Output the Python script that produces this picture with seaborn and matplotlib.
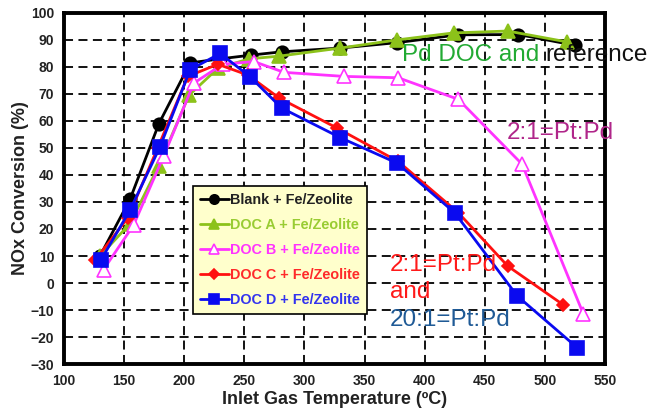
import matplotlib
matplotlib.use("Agg")
import matplotlib.pyplot as plt
import seaborn as sns
import pandas as pd

sns.set_theme(style="white")
plt.rcParams["font.family"] = ["Liberation Sans", "DejaVu Sans"]

# Inlet temperature (degC) and NOx conversion (%) per configuration
blank_t = [130, 155, 179, 205, 230, 256, 281, 330, 377, 428, 478, 525]
blank_y = [10, 31, 59, 81.5, 83, 84.4, 85.6, 87, 89, 91.9, 92, 88]

doca_t = [130, 155, 179, 204, 228, 254, 279, 330, 377, 424, 469, 518]
doca_y = [10, 22, 43.5, 69.5, 79.5, 83, 84, 87, 90, 92.6, 93.3, 89.3]

docb_t = [133, 158, 183, 208, 232, 258, 283, 333, 378, 428, 481, 532]
docb_y = [5, 21.5, 47, 74, 81, 82, 78, 76.5, 76, 68, 44, -11.5]

docc_t = [126, 153, 178, 203, 228, 253, 279, 327, 378, 428, 469, 515]
docc_y = [8.5, 24, 50, 76.5, 81, 77, 68.5, 57.4, 45, 26, 6.3, -8]

docd_t = [131, 155, 180, 205, 230, 255, 281, 330, 377, 425, 477, 527]
docd_y = [8.7, 27, 50.5, 79, 85, 76.3, 64.8, 53.8, 44.4, 26, -4.8, -24]

labels = ["Blank + Fe/Zeolite", "DOC A + Fe/Zeolite", "DOC B + Fe/Zeolite",
          "DOC C + Fe/Zeolite", "DOC D + Fe/Zeolite"]

series = [
    (blank_t, blank_y, "#000000", "o", 9, "#000000"),
    (doca_t, doca_y, "#8CC21A", "^", 9.5, "#8CC21A"),
    (docb_t, docb_y, "#FF33FF", "^", 10.5, "white"),
    (docc_t, docc_y, "#FF1010", "D", 6.5, "#FF1010"),
    (docd_t, docd_y, "#0A0AF0", "s", 10.5, "#0A0AF0"),
]
legend_text_colors = ["#222222", "#99CC33", "#FF33FF", "#FF2A2A", "#3333EE"]

fig = plt.figure(figsize=(6.52, 4.17), dpi=100)
ax = fig.add_axes([0.098, 0.127, 0.83, 0.842])

for (t, y, c, m, ms, fc), lab in zip(series, labels):
    df = pd.DataFrame({"T": t, "NOx": y})
    sns.lineplot(data=df, x="T", y="NOx", ax=ax, color=c, marker=m,
                 markersize=ms, markerfacecolor=fc, markeredgecolor=c,
                 markeredgewidth=1.2, linewidth=2, sort=False, label=lab)

ax.set_xlim(100, 550)
ax.set_ylim(-30, 100)
ax.set_xticks(range(100, 551, 50))
ax.set_yticks(range(-30, 101, 10))
ax.grid(True, color="black", linestyle=(0, (5, 3)), linewidth=1.3)
for s in ax.spines.values():
    s.set_color("black")
    s.set_linewidth(2.8)
ax.tick_params(axis="both", which="major", direction="out", length=4,
               width=1.2, color="black", labelsize=10, pad=3)
for lbl in ax.get_xticklabels() + ax.get_yticklabels():
    lbl.set_fontweight("bold")
    lbl.set_color("#222222")

ax.set_xlabel("Inlet Gas Temperature (ºC)", fontsize=13, fontweight="bold",
              color="#222222", labelpad=2)
ax.set_ylabel("NOx Conversion (%)", fontsize=13, fontweight="bold",
              color="#222222", labelpad=1)

leg = ax.legend(loc="upper left", bbox_to_anchor=(0.238, 0.507),
                borderaxespad=0, frameon=True, fancybox=False,
                facecolor="#FFFFCC", edgecolor="black", framealpha=1,
                handlelength=2.0, handletextpad=0.05, labelspacing=0.75,
                borderpad=0.5, markerscale=0.75,
                prop={"weight": "bold", "size": 10.4})
leg.get_frame().set_linewidth(1.2)
for txt, c in zip(leg.get_texts(), legend_text_colors):
    txt.set_color(c)

# Callouts
fs = 17.5
t1 = ax.text(381, 84.4, "Pd DOC and ", color="#22AA33", fontsize=fs,
             ha="left", va="center", clip_on=False)
fig.canvas.draw()
bb = t1.get_window_extent().transformed(ax.transData.inverted())
ax.text(bb.x1, 84.4, "reference", color="#111111", fontsize=fs,
        ha="left", va="center", clip_on=False)
ax.text(468, 55.6, "2:1=Pt:Pd", color="#B0268A", fontsize=fs,
        ha="left", va="center", clip_on=False)
ax.text(371, 6.7, "2:1=Pt:Pd", color="#FF1A1A", fontsize=fs,
        ha="left", va="center")
ax.text(371, -3.3, "and", color="#FF1A1A", fontsize=fs,
        ha="left", va="center")
ax.text(371, -13.7, "20:1=Pt:Pd", color="#1F5A96", fontsize=fs,
        ha="left", va="center")

fig.savefig("out.png", dpi=100, facecolor="white")
